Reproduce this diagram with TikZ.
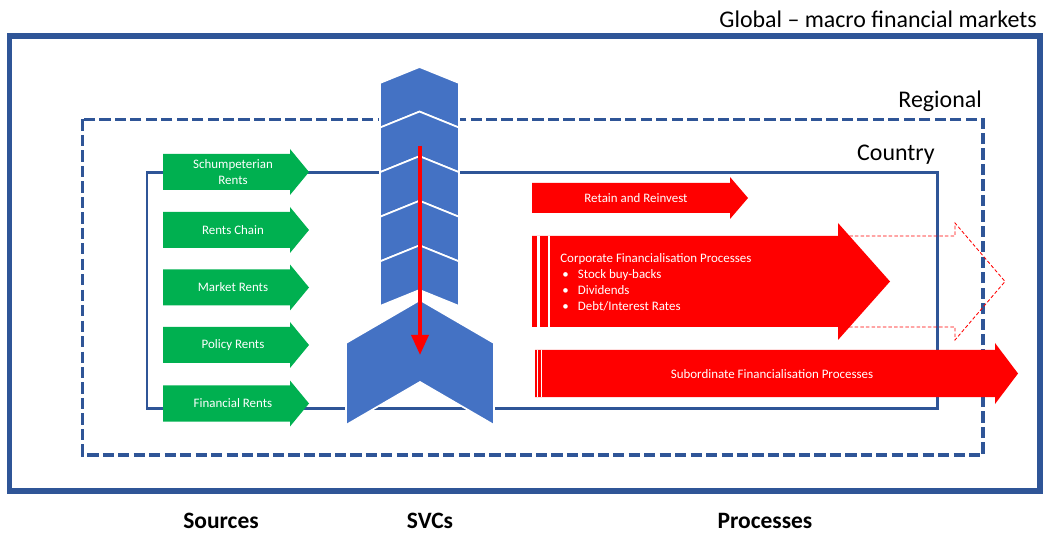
\documentclass[tikz,border=0pt]{standalone}
\usepackage{fontspec}
\setmainfont{Carlito}
\usetikzlibrary{arrows.meta,positioning}

\definecolor{boxblue}{HTML}{2F5597}
\definecolor{svcblue}{HTML}{4472C4}
\definecolor{rentgreen}{HTML}{00B050}
\definecolor{procred}{HTML}{FF0000}

\begin{document}
\begin{tikzpicture}[x=0.025cm, y=-0.025cm,
    frame/.style={draw=boxblue, line width=3.9pt},
    region/.style={draw=boxblue, line width=2.5pt, dash pattern=on 8pt off 3pt},
    country/.style={draw=boxblue, line width=2.1pt},
    levellabel/.style={font=\fontsize{17}{20}\selectfont, inner sep=0, anchor=base east},
    colhead/.style={font=\bfseries\fontsize{16.7}{20}\selectfont, inner sep=0, anchor=base},
    rentlabel/.style={text=white, font=\fontsize{9.2}{11.3}\selectfont, align=center, inner sep=0},
    proclabel/.style={text=white, font=\fontsize{9.2}{11.4}\selectfont, inner sep=0},
    svc/.style={fill=svcblue, draw=white, line width=1.2pt},
    ghost/.style={draw=procred, line width=0.6pt, dash pattern=on 2.5pt off 1.5pt}]

  \useasboundingbox (0,0) rectangle (1043,536);

  % nested levels
  \draw[frame] (9.5,36) rectangle (1040,491);
  \draw[region] (82.5,119.5) rectangle (983,455);
  \draw[country] (147,172.5) rectangle (937.5,408.5);
  \node[levellabel] (global) at (1037,28) {Global -- macro financial markets};
  \node[levellabel] (regional) at (982,108) {Regional};
  \node[levellabel] (countrylbl) at (935,161) {Country};

  % sources
  \foreach \y/\t [count=\i] in {172/{Schumpeterian\\Rents}, 230/Rents Chain, 287.5/Market Rents, 345/Policy Rents, 403.5/Financial Rents} {
    \fill[rentgreen] (163,\y-18) -- (290,\y-18) -- (290,\y-23) -- (309,\y)
      -- (290,\y+23) -- (290,\y+18) -- (163,\y+18) -- cycle;
    \node[rentlabel] (rent\i) at (233,\y) {\t};
  }

  % processes
  \draw[ghost] (838,236) -- (955,236) -- (955,223) -- (1005,281.5) -- (955,340) -- (955,327) -- (838,327);

  \fill[procred] (532,183) -- (730,183) -- (730,177) -- (748,198) -- (730,219) -- (730,213) -- (532,213) -- cycle;
  \node[proclabel] (retain) at (636,198.5) {Retain and Reinvest};

  \fill[procred] (532,236) -- (838,236) -- (838,223) -- (890,281.5) -- (838,340) -- (838,327) -- (532,327) -- cycle;
  \draw[white, line width=2.2pt] (538.5,236) -- (538.5,327);
  \draw[white, line width=1.4pt] (549,236) -- (549,327);
  \node[proclabel, align=left, anchor=north west] (corporate) at (560,253)
    {Corporate Financialisation Processes\\
     \makebox[12.5pt][l]{\,\textbullet}Stock buy-backs\\
     \makebox[12.5pt][l]{\,\textbullet}Dividends\\
     \makebox[12.5pt][l]{\,\textbullet}Debt/Interest Rates};

  \fill[procred] (535,350) -- (995,350) -- (995,343) -- (1018,373.5) -- (995,404) -- (995,397) -- (535,397) -- cycle;
  \draw[white, line width=0.9pt] (537.7,350) -- (537.7,397);
  \draw[white, line width=0.9pt] (541.7,350) -- (541.7,397);
  \node[proclabel] (subordinate) at (772,374) {Subordinate Financialisation Processes};

  % SVC chevrons
  \foreach \t in {67,111.6,156.2,200.8,245.4}
    \filldraw[svc] (380,\t+16) -- (419.5,\t) -- (459,\t+16) -- (459,\t+60.6)
      -- (419.5,\t+44.6) -- (380,\t+60.6) -- cycle;
  \filldraw[svc] (346,343) -- (420,300) -- (494,343) -- (494,425) -- (420,382) -- (346,425) -- cycle;

  \coordinate (svcin) at (420,146);
  \coordinate (svcout) at (420,355);
  \draw[procred, line width=2.8pt, -{Triangle[width=0.42cm, length=0.5cm]}] (svcin) -- (svcout);

  % column headings
  \node[colhead] (sources) at (221,528) {Sources};
  \node[colhead] (svcs) at (430,528) {SVCs};
  \node[colhead] (processes) at (765,528) {Processes};
\end{tikzpicture}
\end{document}
